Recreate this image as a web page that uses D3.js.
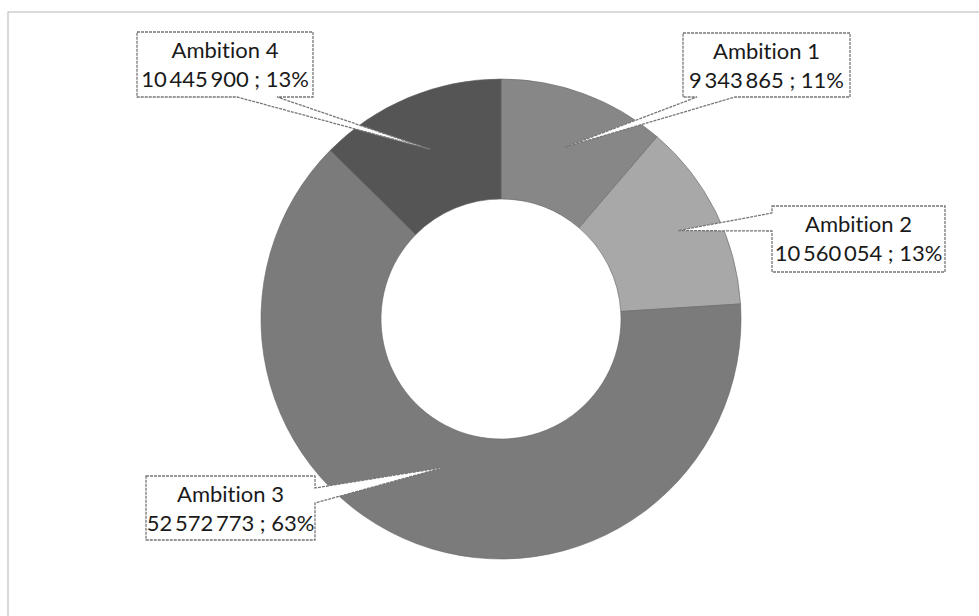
<!DOCTYPE html>
<html>
<head>
<meta charset="utf-8">
<script src="https://cdn.jsdelivr.net/npm/d3@7"></script>
<style>
  body { margin: 0; background: #fff; }
  svg { display: block; }
  .lbl { font-family: Lato, "Open Sans", sans-serif; font-size: 22px; fill: #1a1a1a;
         font-variant-ligatures: none; }
</style>
</head>
<body>
<div id="chart"></div>
<script>
const names = ["Ambition 1", "Ambition 2", "Ambition 3", "Ambition 4"]
const values = [9343865, 10560054, 52572773, 10445900]
const colors = ["#878787", "#a8a8a8", "#7b7b7b", "#555555"]

// callout boxes (x, y, w, h), the edge the pointer leaves from, and how far out the tip sits
const boxes = [
  {x: 683, y: 33, w: 167, h: 64, side: "bottom", b0: 697, b1: 735, r: 183},
  {x: 772, y: 206, w: 173, h: 66, side: "left", b0: 213, b1: 231, r: 198},
  {x: 146, y: 476, w: 169, h: 64, side: "right", b0: 488, b1: 503, r: 158},
  {x: 137, y: 32, w: 176, h: 65, side: "bottom", b0: 237, b1: 277, r: 184}
]

var width = 979, height = 616
var cx = 501, cy = 319
var outerR = 240, innerR = 120

var svg = d3.select("#chart")
    .append("svg")
        .attr("width", width)
        .attr("height", height)

// chart area frame
svg.append("rect")
    .attr("x", 8)
    .attr("y", 12)
    .attr("width", width)
    .attr("height", height)
    .style("fill", "none")
    .style("stroke", "#b5b5b5")
    .style("stroke-width", 1)

const total = d3.sum(values)
const pct = values.map(v => Math.round(v / total * 100))
const fmt = v => d3.format(",")(v).replace(/,/g, "\u2009")

const pie = d3.pie().sort(null).value(d => d)
const arcs = pie(values)
const arc = d3.arc().innerRadius(innerR).outerRadius(outerR)

var g = svg.append("g")
    .attr("transform", `translate(${cx}, ${cy})`)

g.selectAll("path.slice")
    .data(arcs)
    .join("path")
    .attr("class", "slice")
    .attr("d", arc)
    .style("fill", (d, i) => colors[i])
    .style("stroke", "#666")
    .style("stroke-width", 0.6)

// callouts with a pointer into each slice
function callout(b, tip) {
  const x0 = b.x, y0 = b.y, x1 = b.x + b.w, y1 = b.y + b.h
  const t = `${tip[0]},${tip[1]}`
  if (b.side == "bottom")
    return `M${x0},${y0}L${x1},${y0}L${x1},${y1}L${b.b1},${y1}L${t}L${b.b0},${y1}L${x0},${y1}Z`
  if (b.side == "left")
    return `M${x0},${y0}L${x1},${y0}L${x1},${y1}L${x0},${y1}L${x0},${b.b1}L${t}L${x0},${b.b0}Z`
  return `M${x0},${y0}L${x1},${y0}L${x1},${b.b0}L${t}L${x1},${b.b1}L${x1},${y1}L${x0},${y1}Z`
}

arcs.forEach(function(d, i) {
  const b = boxes[i]
  const c = d3.arc().innerRadius(b.r).outerRadius(b.r).centroid(d)
  const tip = [cx + c[0], cy + c[1]]
  svg.append("path")
      .attr("d", callout(b, tip))
      .style("fill", "#fff")
      .style("stroke", "#777")
      .style("stroke-width", 1.3)
      .style("stroke-dasharray", "3,1")

  const t = svg.append("text")
      .attr("class", "lbl")
      .attr("text-anchor", "middle")
  t.append("tspan")
      .attr("x", b.x + b.w / 2)
      .attr("y", b.y + 26)
      .text(names[i])
  t.append("tspan")
      .attr("x", b.x + b.w / 2)
      .attr("y", b.y + 55)
      .text(`${fmt(values[i])} ; ${pct[i]}%`)
})
</script>
</body>
</html>
